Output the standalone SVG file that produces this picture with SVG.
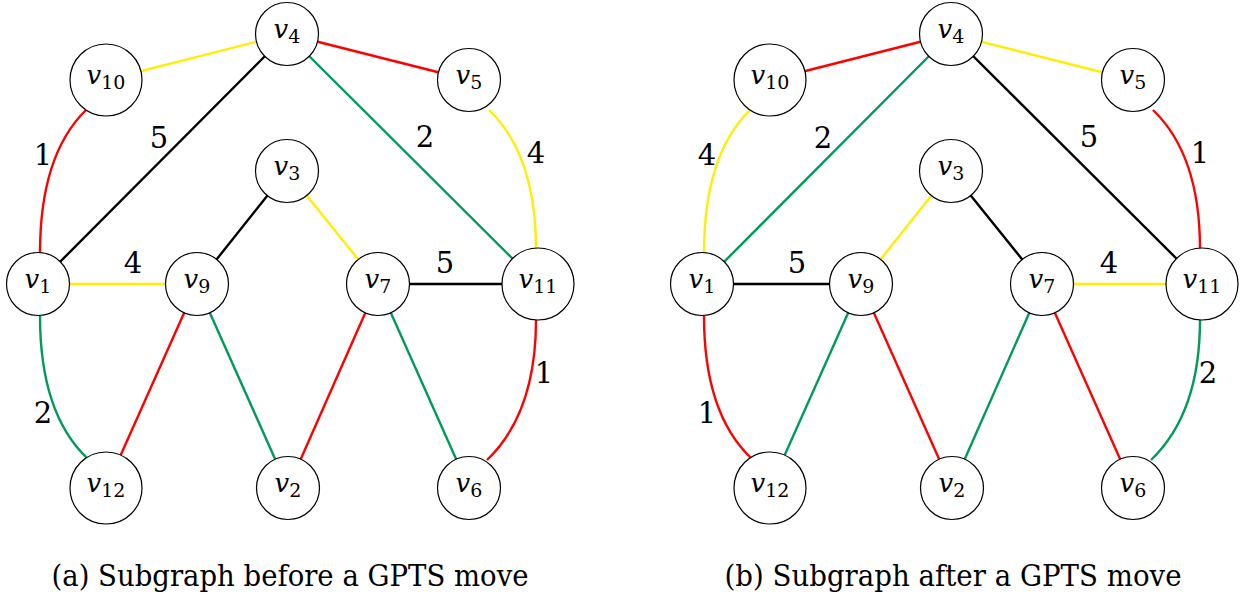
<svg xmlns="http://www.w3.org/2000/svg" width="1240" height="597" viewBox="0 0 1240 597">
  <style>
    .e { fill: none; stroke-width: 2.4; stroke-linecap: butt; }
    .red { stroke: #ff0000; }
    .yel { stroke: #ffee00; }
    .grn { stroke: #009a5a; }
    .blk { stroke: #000000; }
    .n circle { fill: #ffffff; stroke: #000000; stroke-width: 1.2; }
    text { font-family: "DejaVu Serif", "Liberation Serif", serif; fill: #000000; }
    .n text { font-size: 26px; text-anchor: middle; }
    .n .v { font-style: italic; }
    .n .s { font-size: 19px; }
    .w { font-size: 29px; text-anchor: middle; }
    .cap { font-size: 29px; text-anchor: middle; }
  </style>

  <!-- (a) edges -->
  <g id="edges-a">
    <line class="e yel" x1="106" y1="80" x2="287" y2="34"/>
    <line class="e red" x1="287" y1="34" x2="469" y2="80"/>
    <line class="e blk" x1="287" y1="34" x2="38" y2="284"/>
    <line class="e grn" x1="287" y1="34" x2="538" y2="284"/>
    <path class="e red" d="M86,110 Q40,155 40,253"/>
    <path class="e yel" d="M489,110 Q536,155 536,249"/>
    <line class="e yel" x1="38" y1="284" x2="197" y2="284"/>
    <line class="e blk" x1="287" y1="171" x2="197" y2="284"/>
    <line class="e yel" x1="287" y1="171" x2="378" y2="284"/>
    <line class="e blk" x1="378" y1="284" x2="538" y2="284"/>
    <path class="e grn" d="M40,316 Q40,413 87,458"/>
    <line class="e red" x1="197" y1="284" x2="106" y2="488"/>
    <line class="e grn" x1="197" y1="284" x2="288" y2="488"/>
    <line class="e red" x1="378" y1="284" x2="288" y2="488"/>
    <line class="e grn" x1="378" y1="284" x2="469" y2="488"/>
    <path class="e red" d="M536,320 Q536,413 487,460"/>
  </g>

  <!-- (b) edges -->
  <g id="edges-b">
    <line class="e red" x1="770" y1="80" x2="951" y2="34"/>
    <line class="e yel" x1="951" y1="34" x2="1133" y2="80"/>
    <line class="e grn" x1="951" y1="34" x2="702" y2="284"/>
    <line class="e blk" x1="951" y1="34" x2="1202" y2="284"/>
    <path class="e yel" d="M750,110 Q704,155 704,253"/>
    <path class="e red" d="M1153,110 Q1200,155 1200,249"/>
    <line class="e blk" x1="702" y1="284" x2="861" y2="284"/>
    <line class="e yel" x1="951" y1="171" x2="861" y2="284"/>
    <line class="e blk" x1="951" y1="171" x2="1042" y2="284"/>
    <line class="e yel" x1="1042" y1="284" x2="1202" y2="284"/>
    <path class="e red" d="M704,316 Q704,413 751,458"/>
    <line class="e grn" x1="861" y1="284" x2="770" y2="488"/>
    <line class="e red" x1="861" y1="284" x2="952" y2="488"/>
    <line class="e grn" x1="1042" y1="284" x2="952" y2="488"/>
    <line class="e red" x1="1042" y1="284" x2="1133" y2="488"/>
    <path class="e grn" d="M1200,320 Q1200,413 1151,460"/>
  </g>

  <!-- edge weights -->
  <g id="weights">
    <text class="w" x="159" y="148">5</text>
    <text class="w" x="425" y="147">2</text>
    <text class="w" x="43" y="165">1</text>
    <text class="w" x="536" y="163">4</text>
    <text class="w" x="133" y="273">4</text>
    <text class="w" x="445" y="273">5</text>
    <text class="w" x="43" y="423">2</text>
    <text class="w" x="544" y="383">1</text>

    <text class="w" x="823" y="148">2</text>
    <text class="w" x="1089" y="147">5</text>
    <text class="w" x="707" y="165">4</text>
    <text class="w" x="1200" y="163">1</text>
    <text class="w" x="797" y="273">5</text>
    <text class="w" x="1109" y="273">4</text>
    <text class="w" x="707" y="423">1</text>
    <text class="w" x="1208" y="383">2</text>
  </g>

  <!-- (a) vertices -->
  <g id="a-v4" class="n"><circle cx="287" cy="34" r="31.5"/><text x="287" y="38"><tspan class="v">v</tspan><tspan class="s" dy="5">4</tspan></text></g>
  <g id="a-v10" class="n"><circle cx="106" cy="80" r="36"/><text x="106" y="84"><tspan class="v">v</tspan><tspan class="s" dy="5">10</tspan></text></g>
  <g id="a-v5" class="n"><circle cx="469" cy="80" r="31.5"/><text x="469" y="84"><tspan class="v">v</tspan><tspan class="s" dy="5">5</tspan></text></g>
  <g id="a-v3" class="n"><circle cx="287" cy="171" r="31.5"/><text x="287" y="175"><tspan class="v">v</tspan><tspan class="s" dy="5">3</tspan></text></g>
  <g id="a-v1" class="n"><circle cx="38" cy="284" r="31.5"/><text x="38" y="288"><tspan class="v">v</tspan><tspan class="s" dy="5">1</tspan></text></g>
  <g id="a-v9" class="n"><circle cx="197" cy="284" r="31.5"/><text x="197" y="288"><tspan class="v">v</tspan><tspan class="s" dy="5">9</tspan></text></g>
  <g id="a-v7" class="n"><circle cx="378" cy="284" r="31.5"/><text x="378" y="288"><tspan class="v">v</tspan><tspan class="s" dy="5">7</tspan></text></g>
  <g id="a-v11" class="n"><circle cx="538" cy="284" r="36"/><text x="538" y="288"><tspan class="v">v</tspan><tspan class="s" dy="5">11</tspan></text></g>
  <g id="a-v12" class="n"><circle cx="106" cy="488" r="36"/><text x="106" y="492"><tspan class="v">v</tspan><tspan class="s" dy="5">12</tspan></text></g>
  <g id="a-v2" class="n"><circle cx="288" cy="488" r="31.5"/><text x="288" y="492"><tspan class="v">v</tspan><tspan class="s" dy="5">2</tspan></text></g>
  <g id="a-v6" class="n"><circle cx="469" cy="488" r="31.5"/><text x="469" y="492"><tspan class="v">v</tspan><tspan class="s" dy="5">6</tspan></text></g>

  <!-- (b) vertices -->
  <g id="b-v4" class="n"><circle cx="951" cy="34" r="31.5"/><text x="951" y="38"><tspan class="v">v</tspan><tspan class="s" dy="5">4</tspan></text></g>
  <g id="b-v10" class="n"><circle cx="770" cy="80" r="36"/><text x="770" y="84"><tspan class="v">v</tspan><tspan class="s" dy="5">10</tspan></text></g>
  <g id="b-v5" class="n"><circle cx="1133" cy="80" r="31.5"/><text x="1133" y="84"><tspan class="v">v</tspan><tspan class="s" dy="5">5</tspan></text></g>
  <g id="b-v3" class="n"><circle cx="951" cy="171" r="31.5"/><text x="951" y="175"><tspan class="v">v</tspan><tspan class="s" dy="5">3</tspan></text></g>
  <g id="b-v1" class="n"><circle cx="702" cy="284" r="31.5"/><text x="702" y="288"><tspan class="v">v</tspan><tspan class="s" dy="5">1</tspan></text></g>
  <g id="b-v9" class="n"><circle cx="861" cy="284" r="31.5"/><text x="861" y="288"><tspan class="v">v</tspan><tspan class="s" dy="5">9</tspan></text></g>
  <g id="b-v7" class="n"><circle cx="1042" cy="284" r="31.5"/><text x="1042" y="288"><tspan class="v">v</tspan><tspan class="s" dy="5">7</tspan></text></g>
  <g id="b-v11" class="n"><circle cx="1202" cy="284" r="36"/><text x="1202" y="288"><tspan class="v">v</tspan><tspan class="s" dy="5">11</tspan></text></g>
  <g id="b-v12" class="n"><circle cx="770" cy="488" r="36"/><text x="770" y="492"><tspan class="v">v</tspan><tspan class="s" dy="5">12</tspan></text></g>
  <g id="b-v2" class="n"><circle cx="952" cy="488" r="31.5"/><text x="952" y="492"><tspan class="v">v</tspan><tspan class="s" dy="5">2</tspan></text></g>
  <g id="b-v6" class="n"><circle cx="1133" cy="488" r="31.5"/><text x="1133" y="492"><tspan class="v">v</tspan><tspan class="s" dy="5">6</tspan></text></g>

  <!-- captions -->
  <text class="cap" x="290" y="586" textLength="477" lengthAdjust="spacingAndGlyphs">(a) Subgraph before a GPTS move</text>
  <text class="cap" x="953" y="586" textLength="457" lengthAdjust="spacingAndGlyphs">(b) Subgraph after a GPTS move</text>
</svg>
